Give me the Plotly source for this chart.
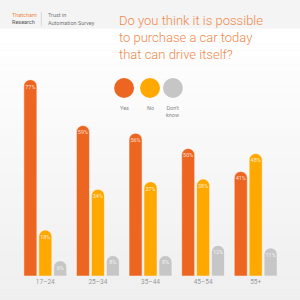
import plotly.graph_objects as go

categories = ["17–24", "25–34", "35–44", "45–54", "55+"]
series_names = ["Yes", "No", "Don't<br>know"]
yes_vals = [77, 59, 56, 50, 41]
no_vals = [18, 34, 37, 38, 48]
dk_vals = [6, 8, 8, 12, 11]
colors = ["#ec6621", "#ffa800", "#c6c6c6"]

W, H = 300, 300
fig = go.Figure()

for name, vals, col in zip(series_names, [yes_vals, no_vals, dk_vals], colors):
    fig.add_trace(go.Bar(
        x=categories, y=vals, name=name.replace("<br>", " "),
        marker=dict(color=col, cornerradius="50%",
                    line=dict(color="rgba(255,255,255,0.6)", width=0.8)),
        showlegend=False, hoverinfo="skip",
    ))
for name, vals in zip(series_names, [yes_vals, no_vals, dk_vals]):
    fig.add_trace(go.Scatter(
        x=categories, y=vals, mode="markers+text",
        marker=dict(size=6, opacity=0),
        text=[f"{v}%" for v in vals], textposition="bottom center",
        textfont=dict(family="Roboto", size=5.5, color="rgba(255,255,255,0.8)"),
        showlegend=False, hoverinfo="skip", cliponaxis=False,
    ))

# background gradient bands
shapes = []
n = 40
for i in range(n):
    t = i / (n - 1)
    c = int(round(255 - t * 17))
    shapes.append(dict(type="rect", xref="paper", yref="paper", layer="below",
                       x0=-0.1, x1=1.1, y0=1.2 - (i + 1) * 1.4 / n, y1=1.2 - i * 1.4 / n,
                       fillcolor=f"rgb({c},{c},{c})", line=dict(width=0)))

l, r, t, b = 18.6, 17.6, 70, 24
pw, ph = W - l - r, H - t - b
def px(x): return (x - l) / pw
def py(y): return (H - b - y) / ph

# legend circles
leg_x = [124, 150, 173]
leg_y = 88
rad = 10
annotations = []
for xc, col, name in zip(leg_x, colors, series_names):
    shapes.append(dict(type="circle", xref="paper", yref="paper",
                       x0=px(xc - rad), x1=px(xc + rad), y0=py(leg_y + rad), y1=py(leg_y - rad),
                       fillcolor=col, line=dict(width=0)))
    annotations.append(dict(xref="paper", yref="paper", x=px(xc), y=py(103),
                            text=name, showarrow=False, xanchor="center", yanchor="top",
                            font=dict(family="Roboto", size=5.5, color="#888888")))

# logo divider
shapes.append(dict(type="line", xref="paper", yref="paper", x0=px(41), x1=px(41),
                   y0=py(12), y1=py(26), line=dict(color="#cccccc", width=0.7)))

annotations += [
    dict(xref="paper", yref="paper", x=px(117), y=py(11), xanchor="left", yanchor="top",
         text="Do you think it is possible<br>to purchase a car today<br>that can drive itself?",
         align="left", showarrow=False,
         font=dict(family="Roboto", size=13, color="#f0894a", weight=300)),
    dict(xref="paper", yref="paper", x=px(10), y=py(15), xanchor="left", yanchor="middle",
         text="Thatcham", showarrow=False,
         font=dict(family="Roboto", size=5.5, color="#f0894a")),
    dict(xref="paper", yref="paper", x=px(10), y=py(22), xanchor="left", yanchor="middle",
         text="Research", showarrow=False,
         font=dict(family="Roboto", size=5.5, color="#555555")),
    dict(xref="paper", yref="paper", x=px(46), y=py(15), xanchor="left", yanchor="middle",
         text="Trust in", showarrow=False,
         font=dict(family="Roboto", size=5.5, color="#777777")),
    dict(xref="paper", yref="paper", x=px(46), y=py(23), xanchor="left", yanchor="middle",
         text="Automation Survey", showarrow=False,
         font=dict(family="Roboto", size=5.5, color="#777777")),
]

fig.update_layout(
    width=W, height=H, margin=dict(l=l, r=r, t=t, b=b, pad=0),
    barmode="group", bargap=0.148, bargroupgap=0.13,
    scattermode="group", scattergap=0.148,
    paper_bgcolor="#f4f4f4", plot_bgcolor="rgba(0,0,0,0)",
    shapes=shapes, annotations=annotations,
    xaxis=dict(showgrid=False, zeroline=False, showline=False, ticks="",
               tickfont=dict(family="Roboto", size=6.5, color="#999999"), fixedrange=True),
    yaxis=dict(visible=False, range=[0, ph / 2.55], fixedrange=True),
)

fig.write_html("out.html", config={"displayModeBar": False})
